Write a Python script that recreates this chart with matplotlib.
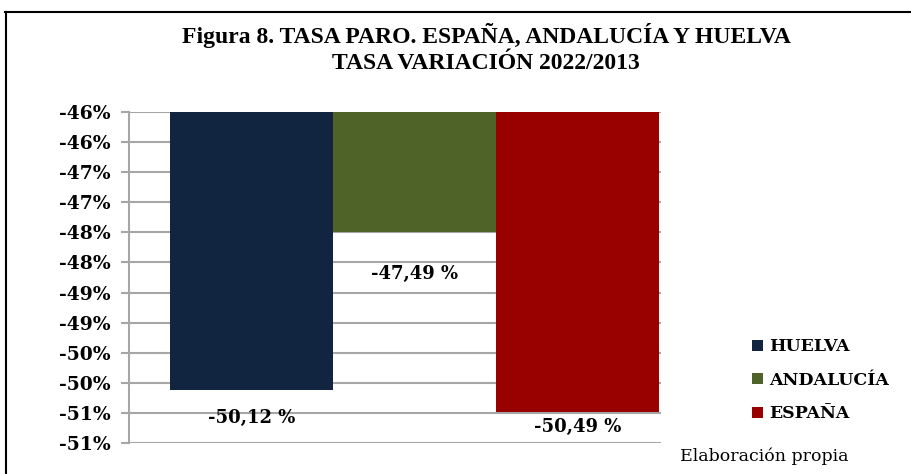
import matplotlib.pyplot as plt
from matplotlib.lines import Line2D
from matplotlib.patches import Patch

# Data
regiones = ["HUELVA", "ANDALUCÍA", "ESPAÑA"]
variacion = [-50.12, -47.49, -50.49]
etiquetas = ["-50,12 %", "-47,49 %", "-50,49 %"]
colores = ["#122540", "#4f6228", "#990000"]

ticks = [-45.5, -46, -46.5, -47, -47.5, -48, -48.5, -49, -49.5, -50, -50.5, -51]
tick_labels = ["-46%", "-46%", "-47%", "-47%", "-48%", "-48%",
               "-49%", "-49%", "-50%", "-50%", "-51%", "-51%"]

base = -45.5
# where the value labels sit (data units)
label_y = [-50.585, -48.19, -50.73]

fig = plt.figure(figsize=(9.12, 4.74), dpi=100)
ax = fig.add_axes([0.1414, 0.0654, 0.5833, 0.6983])

x = range(len(regiones))
for i in x:
    ax.bar(i, variacion[i] - base, bottom=base, width=1.0,
           color=colores[i], zorder=3)
    ax.text(i, label_y[i], etiquetas[i], ha="center", va="center",
            fontsize=13, fontweight="bold", family="DejaVu Serif", zorder=4)

ax.set_xlim(-0.752, 2.512)
ax.set_ylim(-51, -45.5)
ax.set_yticks(ticks)
ax.set_yticklabels(tick_labels, fontsize=13.5, fontweight="bold",
                   family="DejaVu Serif")
ax.set_xticks([])
ax.yaxis.grid(True, color="#a6a6a6", linewidth=1.5, zorder=0)
ax.tick_params(axis="y", length=6, width=1.5, color="#a6a6a6", pad=7)
for s in ["top", "right", "bottom"]:
    ax.spines[s].set_visible(False)
ax.spines["left"].set_color("#a6a6a6")
ax.spines["left"].set_linewidth(1.5)

fig.text(0.533, 0.897, "Figura 8. TASA PARO. ESPAÑA, ANDALUCÍA Y HUELVA\nTASA VARIACIÓN 2022/2013",
         ha="center", va="center", fontsize=17, fontweight="bold",
         family="Liberation Serif", linespacing=1.3)

handles = [Patch(facecolor=c, edgecolor="none") for c in colores]
leg = fig.legend(handles, regiones, loc="center left",
                 bbox_to_anchor=(0.825, 0.198), frameon=False,
                 prop={"family": "DejaVu Serif", "weight": "bold", "size": 12.5},
                 handlelength=0.6, handleheight=0.6, handletextpad=0.35,
                 labelspacing=0.95, borderpad=0, borderaxespad=0)

fig.text(0.746, 0.037, "Elaboración propia", ha="left", va="center",
         fontsize=12.5, family="DejaVu Serif")

# outer frame
fig.add_artist(Line2D([0.0055, 1.0], [0.9747, 0.9747], color="black",
                      linewidth=1.5, transform=fig.transFigure))
fig.add_artist(Line2D([0.0066, 0.0066], [0.0, 0.9747], color="black",
                      linewidth=1.5, transform=fig.transFigure))

fig.savefig("out.png", dpi=100)
